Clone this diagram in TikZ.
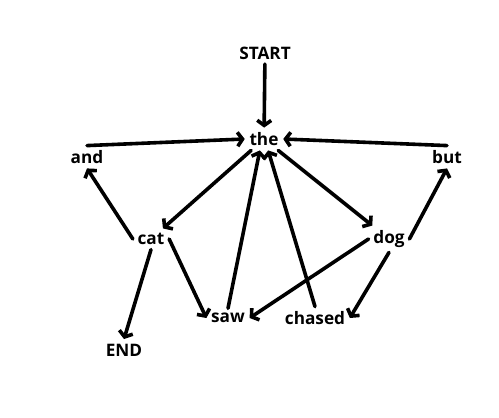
\documentclass[tikz,border=0pt]{standalone}
\usepackage{fontspec}
\setmainfont{Open Sans}
\usetikzlibrary{arrows.meta}

\begin{document}
\begin{tikzpicture}[x=1pt,y=-1pt,line width=3.6pt,
    word/.style={font=\fontsize{17.2}{19}\selectfont\bfseries, inner sep=3pt},
    link/.style={-{Straight Barb[length=5pt,width=14pt]}, line cap=round}]
    \useasboundingbox (0,0) rectangle (499,418);

    \node[word] (START) at (265,53) {START};
    \node[word] (the) at (264,139) {the};
    \node[word] (and) at (87,157) {and};
    \node[word] (but) at (447,157) {but};
    \node[word] (cat) at (151,239) {cat};
    \node[word] (dog) at (389,239) {dog};
    \node[word] (saw) at (228,318) {saw};
    \node[word] (chased) at (315,318) {chased};
    \node[word] (END) at (124,350) {END};

%edges
    \draw[link] (START) -- (the);
    \draw[link] (and.north) -- (the.west);
    \draw[link] (but.north) -- (the.east);
    \draw[link] (the) -- (cat);
    \draw[link] (the) -- (dog);
    \draw[link] (saw.north) -- (the.250);
    \draw[link] (chased.north) -- (the.290);
    \draw[link] (cat.west) -- (and.south);
    \draw[link] (dog.east) -- (but.south);
    \draw[link] (cat.east) -- (saw.west);
    \draw[link] (cat.south) -- (END.north);
    \draw[link] (dog.west) -- (saw.east);
    \draw[link] (dog.south) -- (chased.east);

\end{tikzpicture}
\end{document}
